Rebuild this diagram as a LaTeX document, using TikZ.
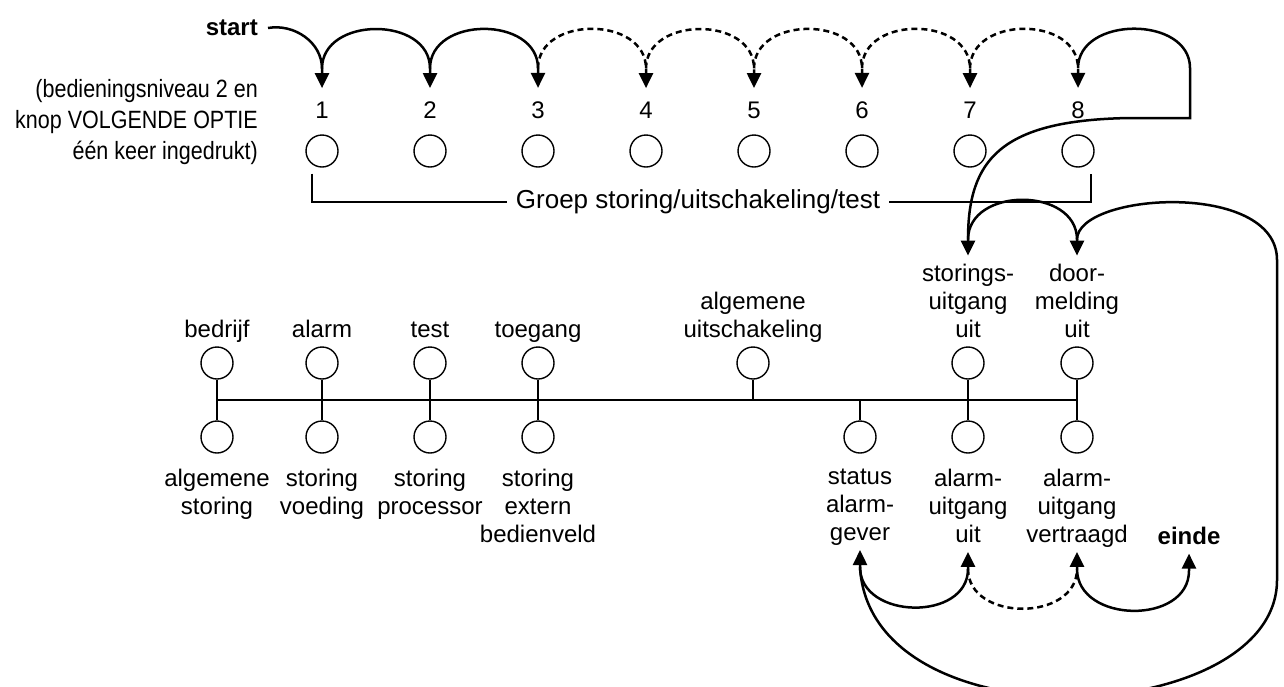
\documentclass[tikz,border=0pt]{standalone}
\usepackage{fontspec}
\setmainfont{Liberation Sans}
\newfontfamily\narrowfont[FakeStretch=0.86]{Liberation Sans}
\usetikzlibrary{arrows.meta,positioning}
\newcommand{\lblfont}{\fontsize{24}{28}\selectfont}
\tikzset{>={Triangle[length=15pt,width=14pt]}}
\tikzset{
  lamp/.style={circle, draw, line width=1.4pt, minimum size=32pt, inner sep=0pt},
  lbl/.style={align=center, inner sep=0pt, font=\lblfont, execute at begin node=\strut, execute at end node=\strut},
  num/.style={inner sep=0pt, font=\lblfont},
  hop/.style={->, line width=2.5pt, shorten >=13.4pt},
  dhop/.style={hop, dash pattern=on 6pt off 4pt},
  stub/.style={line width=2.2pt}
}

\begin{document}
\begin{tikzpicture}[x=1pt,y=1pt]
    \useasboundingbox (0,0) rectangle (1284,-686);
    \node[num, font=\lblfont\bfseries, anchor=east] (st) at (258,-28) {start};
    \node[inner sep=0pt, align=right, anchor=east, font=\narrowfont\fontsize{25}{31}\selectfont] (info) at (258,-122) {(bedieningsniveau 2 en\\knop VOLGENDE OPTIE\\één keer ingedrukt)};
    \node[num] (n1) at (322,-110) {1};
    \node[num] (n2) at (430,-110) {2};
    \node[num] (n3) at (538,-110) {3};
    \node[num] (n4) at (646,-110) {4};
    \node[num] (n5) at (754,-110) {5};
    \node[num] (n6) at (862,-110) {6};
    \node[num] (n7) at (970,-110) {7};
    \node[num] (n8) at (1078,-110) {8};
    \node[lamp] (c1) at (322,-151) {};
    \node[lamp] (c2) at (430,-151) {};
    \node[lamp] (c3) at (538,-151) {};
    \node[lamp] (c4) at (646,-151) {};
    \node[lamp] (c5) at (754,-151) {};
    \node[lamp] (c6) at (862,-151) {};
    \node[lamp] (c7) at (970,-151) {};
    \node[lamp] (c8) at (1078,-151) {};
    \node[inner sep=9pt, font=\fontsize{26}{30}\selectfont] (grp) at (698,-202) {Groep storing/uitschakeling/test};
    \draw[stub] ([xshift=-10pt,yshift=-6pt]c1.south) |- (grp.west);
    \draw[stub] (grp.east) -| ([xshift=13pt,yshift=-6pt]c8.south);

    \draw[hop] ([xshift=10pt]st.east) to[out=10,in=90] ([yshift=33pt]n1.north) -- (n1.north);
    \draw[hop] ([yshift=33pt]n1.north) to[out=90,in=90,looseness=1.25] ([yshift=33pt]n2.north) -- (n2.north);
    \draw[hop] ([yshift=33pt]n2.north) to[out=90,in=90,looseness=1.25] ([yshift=33pt]n3.north) -- (n3.north);
    \draw[dhop] ([yshift=33pt]n3.north) to[out=90,in=90,looseness=1.25] ([yshift=33pt]n4.north) -- (n4.north);
    \draw[dhop] ([yshift=33pt]n4.north) to[out=90,in=90,looseness=1.25] ([yshift=33pt]n5.north) -- (n5.north);
    \draw[dhop] ([yshift=33pt]n5.north) to[out=90,in=90,looseness=1.25] ([yshift=33pt]n6.north) -- (n6.north);
    \draw[dhop] ([yshift=33pt]n6.north) to[out=90,in=90,looseness=1.25] ([yshift=33pt]n7.north) -- (n7.north);
    \draw[dhop] ([yshift=33pt]n7.north) to[out=90,in=90,looseness=1.25] ([yshift=33pt]n8.north) -- (n8.north);

    \node[lamp] (ub) at (217,-363) {};
    \node[lamp] (ua) at (322,-363) {};
    \node[lamp] (ut) at (430,-363) {};
    \node[lamp] (ug) at (538,-363) {};
    \node[lamp] (uu) at (753,-363) {};
    \node[lamp] (us) at (968,-363) {};
    \node[lamp] (ud) at (1077,-363) {};
    \node[lamp] (la) at (217,-437) {};
    \node[lamp] (lv) at (322,-437) {};
    \node[lamp] (lp) at (430,-437) {};
    \node[lamp] (le) at (538,-437) {};
    \node[lamp] (ls) at (860,-437) {};
    \node[lamp] (lu) at (968,-437) {};
    \node[lamp] (lw) at (1077,-437) {};

    \node[lbl, above=0.5pt of ub] (Lub) {bedrijf};
    \node[lbl, above=0.5pt of ua] (Lua) {alarm};
    \node[lbl, above=0.5pt of ut] (Lut) {test};
    \node[lbl, above=0.5pt of ug] (Lug) {toegang};
    \node[lbl, above=0.5pt of uu] (Luu) {algemene\\uitschakeling};
    \node[lbl, above=0.5pt of us] (Lus) {storings-\\uitgang\\uit};
    \node[lbl, above=0.5pt of ud] (Lud) {door-\\melding\\uit};
    \node[lbl, below=15pt of la] (Lla) {algemene\\storing};
    \node[lbl, below=15pt of lv] (Llv) {storing\\voeding};
    \node[lbl, below=15pt of lp] (Llp) {storing\\processor};
    \node[lbl, below=15pt of le] (Lle) {storing\\extern\\bedienveld};
    \node[lbl, below=15pt of ls] (Lls) {status\\alarm-\\gever};
    \node[lbl, below=15pt of lu] (Llu) {alarm-\\uitgang\\uit};
    \node[lbl, below=15pt of lw] (Llw) {alarm-\\uitgang\\vertraagd};
    \node[lbl, font=\lblfont\bfseries, anchor=base] (end) at (1189,-544) {einde};

    \coordinate (bl) at (217,-400);
    \coordinate (br) at (1077,-400);
    \draw[stub] (bl) -- (br);
    \draw[stub] (ub.south) -- (la.north);
    \draw[stub] (ua.south) -- (lv.north);
    \draw[stub] (ut.south) -- (lp.north);
    \draw[stub] (ug.south) -- (le.north);
    \draw[stub] (uu.south) -- (uu |- bl);
    \draw[stub] (ls.north) -- (ls |- bl);
    \draw[stub] (us.south) -- (lu.north);
    \draw[stub] (ud.south) -- (lw.north);

    \draw[hop, shorten >=8pt] ([yshift=33pt]n8.north) to[out=90,in=90,looseness=1.2] (1190,-68) -- (1190,-118) -- (1130,-118) .. controls (1000,-120) and (968,-160) .. ([yshift=24pt]Lus.north) -- (Lus.north);
    \draw[hop, shorten >=8pt] ([yshift=24pt]Lus.north) to[out=90,in=90,looseness=1.25] ([yshift=24pt]Lud.north) -- (Lud.north);
    \draw[hop, shorten >=1pt] ([yshift=24pt]Lud.north) .. controls +(0,47) and (1277,-180) .. (1277,-260) -- (1277,-580) .. controls (1277,-728) and (870,-748) .. ([yshift=-18pt]Lls.south) -- (Lls.south);
    \draw[hop, shorten >=1pt] ([yshift=-18pt]Lls.south) to[out=-90,in=-90,looseness=1.25] ([yshift=-18pt]Llu.south) -- (Llu.south);
    \draw[dhop, shorten >=1pt] ([yshift=-18pt]Llu.south) to[out=-90,in=-90,looseness=1.25] ([yshift=-18pt]Llw.south) -- (Llw.south);
    \draw[hop, shorten >=1pt] ([yshift=-18pt]Llw.south) to[out=-90,in=-90,looseness=1.25] ([yshift=-18pt]end.south) -- (end.south);
\end{tikzpicture}
\end{document}
